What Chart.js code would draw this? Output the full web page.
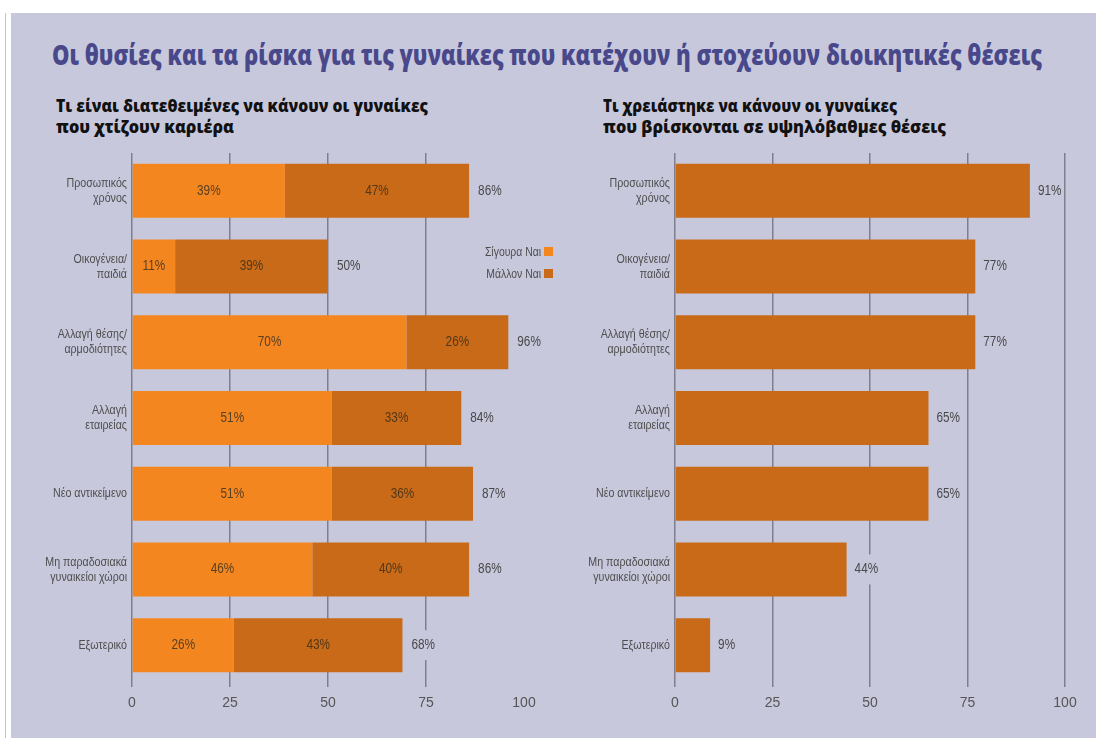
<!DOCTYPE html>
<html lang="el">
<head>
<meta charset="utf-8">
<title>Οι θυσίες και τα ρίσκα για τις γυναίκες</title>
<script src="https://cdn.jsdelivr.net/npm/chart.js@4.4.1/dist/chart.umd.min.js"></script>
<style>
  html, body { margin: 0; padding: 0; background: #ffffff; }
  body { position: relative; width: 1096px; height: 738px; overflow: hidden; }
  .panel { position: absolute; left: 11px; top: 13px; right: 0; bottom: 0; background: #c8c8dd; }
  .edge { position: absolute; left: 5px; top: 13px; bottom: 0; width: 1px; background: #c2c2c8; }
  .line { position: absolute; white-space: nowrap; transform-origin: 0 50%; font-family: "Open Sans", "DejaVu Sans", sans-serif; font-weight: 800; line-height: 1; }
  .title { color: #48488a; font-size: 28px; }
  .sub { color: #111111; font-size: 17px; }
  canvas { position: absolute; }
</style>
</head>
<body>
<div class="edge"></div>
<div class="panel"></div>

<div class="line title" data-w="990" style="left:52px; top:40px;">Οι θυσίες και τα ρίσκα για τις γυναίκες που κατέχουν ή στοχεύουν διοικητικές θέσεις</div>
<div class="line sub" data-w="372" style="left:56px; top:97px;">Τι είναι διατεθειμένες να κάνουν οι γυναίκες</div>
<div class="line sub" data-w="178" style="left:56px; top:118px;">που χτίζουν καριέρα</div>
<div class="line sub" data-w="294" style="left:603px; top:97px;">Τι χρειάστηκε να κάνουν οι γυναίκες</div>
<div class="line sub" data-w="343" style="left:603px; top:118px;">που βρίσκονται σε υψηλόβαθμες θέσεις</div>

<canvas id="left" width="580" height="580" style="left:0px; top:140px;"></canvas>
<canvas id="right" width="536" height="580" style="left:560px; top:140px;"></canvas>

<script>
// Categories (multi-line labels)
const categories = [
  ['Προσωπικός', 'χρόνος'],
  ['Οικογένεια/', 'παιδιά'],
  ['Αλλαγή θέσης/', 'αρμοδιότητες'],
  ['Αλλαγή', 'εταιρείας'],
  ['Νέο αντικείμενο'],
  ['Μη παραδοσιακά', 'γυναικείοι χώροι'],
  ['Εξωτερικό']
];

// Left panel: willingness (stacked)
const seriesNames = ['Σίγουρα Ναι', 'Μάλλον Ναι'];
const definitelyYes = [39, 11, 70, 51, 51, 46, 26];
const probablyYes   = [47, 39, 26, 33, 36, 40, 43];
const totalYes      = [86, 50, 96, 84, 87, 86, 68];

// Right panel: what senior women had to do
const hadTo = [91, 77, 77, 65, 65, 44, 9];

// Axis ticks
const tickValues = [0, 25, 50, 75, 100];

const BG = '#c8c8dd';
const LIGHT = '#f4861f';
const DARK = '#c96a18';
const GRID = '#7e7e8c';
const LABEL_FONT = '"Liberation Sans", "DejaVu Sans", sans-serif';
const SX = 0.84; // horizontal squeeze for the narrow label face

// Fit each heading line to its width
document.querySelectorAll('.line').forEach(el => {
  const w = el.getBoundingClientRect().width;
  const target = parseFloat(el.dataset.w);
  el.style.transform = 'scaleX(' + (target / w) + ')';
});

function drawText(ctx, str, x, y, align, size, color, sx, bg) {
  ctx.save();
  ctx.font = size + 'px ' + LABEL_FONT;
  ctx.textBaseline = 'middle';
  const w = ctx.measureText(str).width * sx;
  if (bg) {
    let x0 = align === 'left' ? x : align === 'right' ? x - w : x - w / 2;
    ctx.fillStyle = bg;
    ctx.fillRect(x0 - 2, y - 15, w + 3, 30);
  }
  ctx.translate(x, y);
  ctx.scale(sx, 1);
  ctx.textAlign = align;
  ctx.fillStyle = color;
  ctx.fillText(str, 0, 0);
  ctx.restore();
}

function drawCategories(chart) {
  const ctx = chart.ctx;
  const y = chart.scales.y;
  const right = chart.chartArea.left - 5;
  categories.forEach((lines, i) => {
    const cy = y.getPixelForValue(i);
    const lh = 15;
    const y0 = cy - (lines.length - 1) * lh / 2;
    lines.forEach((t, k) => drawText(ctx, t, right, y0 + k * lh, 'right', 13, '#4e4e4e', 0.82));
  });
}

function xScale(hideLast) {
  return {
    stacked: true,
    min: 0, max: 100,
    afterBuildTicks: s => { s.ticks = tickValues.map(v => ({ value: v })); },
    ticks: { color: '#555555', font: { family: LABEL_FONT, size: 14 }, padding: 8 },
    grid: {
      color: c => (hideLast && c.tick && c.tick.value === 100) ? 'rgba(0,0,0,0)' : GRID,
      tickColor: c => (hideLast && c.tick && c.tick.value === 100) ? 'rgba(0,0,0,0)' : GRID,
      lineWidth: 1.5,
      drawTicks: true,
      tickLength: 4
    },
    border: { display: false },
    afterFit: s => { s.height = 37; }
  };
}

function yScale(width) {
  return {
    stacked: true,
    ticks: { display: false },
    grid: { display: false },
    border: { display: false },
    afterFit: s => { s.width = width; }
  };
}

const leftLabels = {
  id: 'leftLabels',
  afterDatasetsDraw(chart) {
    const ctx = chart.ctx;
    const m0 = chart.getDatasetMeta(0).data;
    const m1 = chart.getDatasetMeta(1).data;
    m0.forEach((bar, i) => {
      drawText(ctx, definitelyYes[i] + '%', (bar.x + bar.base) / 2, bar.y, 'center', 14, '#5a4024', SX);
      const b1 = m1[i];
      drawText(ctx, probablyYes[i] + '%', (b1.x + b1.base) / 2, b1.y, 'center', 14, '#523818', SX);
      drawText(ctx, totalYes[i] + '%', b1.x + 9, b1.y, 'left', 14, '#484848', SX, BG);
    });
    drawCategories(chart);
    // legend
    const lx = 541, items = [[LIGHT, 112], [DARK, 134]];
    items.forEach(([col, ly], k) => {
      drawText(ctx, seriesNames[k], lx, ly, 'right', 13, '#4e4e4e', 0.8);
      ctx.fillStyle = col;
      ctx.fillRect(lx + 3, ly - 5, 9, 9);
    });
  }
};

const rightLabels = {
  id: 'rightLabels',
  afterDatasetsDraw(chart) {
    const ctx = chart.ctx;
    chart.getDatasetMeta(0).data.forEach((bar, i) => {
      drawText(ctx, hadTo[i] + '%', bar.x + 8, bar.y, 'left', 14, '#484848', SX, BG);
    });
    drawCategories(chart);
  }
};

const common = {
  indexAxis: 'y',
  responsive: false,
  animation: false,
  devicePixelRatio: 1,
  plugins: { legend: { display: false }, tooltip: { enabled: false } }
};

new Chart(document.getElementById('left'), {
  type: 'bar',
  data: {
    labels: categories,
    datasets: [
      { label: seriesNames[0], data: definitelyYes, backgroundColor: LIGHT, borderWidth: 0, barPercentage: 0.713, categoryPercentage: 1 },
      { label: seriesNames[1], data: probablyYes, backgroundColor: DARK, borderWidth: 0, barPercentage: 0.713, categoryPercentage: 1 }
    ]
  },
  options: Object.assign({}, common, {
    layout: { padding: { top: 13, right: 56, left: 0, bottom: 0 } },
    scales: { x: xScale(true), y: yScale(132) }
  }),
  plugins: [leftLabels]
});

new Chart(document.getElementById('right'), {
  type: 'bar',
  data: {
    labels: categories,
    datasets: [
      { label: 'Χρειάστηκε', data: hadTo, backgroundColor: DARK, borderWidth: 0, barPercentage: 0.713, categoryPercentage: 1 }
    ]
  },
  options: Object.assign({}, common, {
    layout: { padding: { top: 13, right: 31, left: 0, bottom: 0 } },
    scales: { x: xScale(false), y: yScale(115) }
  }),
  plugins: [rightLabels]
});
</script>
</body>
</html>
